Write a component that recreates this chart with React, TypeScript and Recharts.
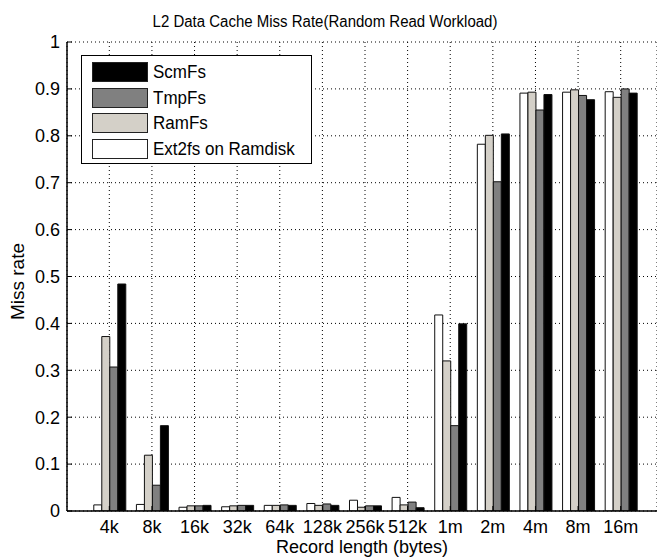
import React from "react";
import {
  BarChart, Bar, XAxis, YAxis, CartesianGrid, Legend, Label,
} from "recharts";

const RECORD_SIZES = ["4k", "8k", "16k", "32k", "64k", "128k", "256k", "512k", "1m", "2m", "4m", "8m", "16m"];

const EXT2_RAMDISK = [0.013, 0.014, 0.008, 0.009, 0.012, 0.016, 0.023, 0.029, 0.418, 0.782, 0.891, 0.893, 0.894];
const RAMFS = [0.372, 0.119, 0.011, 0.011, 0.012, 0.012, 0.008, 0.013, 0.320, 0.801, 0.893, 0.898, 0.882];
const TMPFS = [0.307, 0.055, 0.011, 0.012, 0.013, 0.015, 0.011, 0.019, 0.182, 0.702, 0.855, 0.886, 0.900];
const SCMFS = [0.484, 0.182, 0.012, 0.012, 0.012, 0.012, 0.011, 0.007, 0.399, 0.804, 0.888, 0.877, 0.891];

const Y_TICKS = [0, 0.1, 0.2, 0.3, 0.4, 0.5, 0.6, 0.7, 0.8, 0.9, 1];

const FONT = "'Liberation Sans', Arial, sans-serif";

const SERIES = [
  { key: "ext2", name: "Ext2fs on Ramdisk", fill: "#ffffff" },
  { key: "ramfs", name: "RamFs", fill: "#d4d0c8" },
  { key: "tmpfs", name: "TmpFs", fill: "#808080" },
  { key: "scmfs", name: "ScmFs", fill: "#000000" },
];

const rows = RECORD_SIZES.map((size, i) => ({
  size,
  ext2: EXT2_RAMDISK[i],
  ramfs: RAMFS[i],
  tmpfs: TMPFS[i],
  scmfs: SCMFS[i],
}));

// legend lists the series top-down in reverse plotting order
function LegendBox() {
  const items = [...SERIES].reverse();
  return (
    <div
      style={{
        width: 229,
        height: 107,
        border: "1.5px solid #000",
        background: "#fff",
        position: "relative",
        fontFamily: FONT,
        fontSize: 17,
        color: "#000",
      }}
    >
      {items.map((s, i) => (
        <div key={s.key} style={{ position: "absolute", left: 10, top: 6 + i * 25.5, height: 20, display: "flex", alignItems: "center" }}>
          <div style={{ width: 54, height: 18, background: s.fill, border: "1px solid #222" }} />
          <span style={{ marginLeft: 5, lineHeight: "20px", display: "inline-block", transform: "scaleY(1.12)" }}>{s.name}</span>
        </div>
      ))}
    </div>
  );
}

function YTitle({ viewBox }: any) {
  const x = viewBox.x + 24;
  const y = viewBox.y + viewBox.height / 2 + 5;
  return (
    <text x={x} y={y} transform={`rotate(-90 ${x} ${y})`} textAnchor="middle" fontFamily={FONT} fontSize={19} fill="#000">
      Miss rate
    </text>
  );
}

export default function App() {
  return (
    <div style={{ position: "absolute", left: 0, top: 0, width: 657, height: 560, background: "#fff" }}>
      <div
        style={{
          position: "absolute",
          left: 25,
          top: 13,
          width: 600,
          textAlign: "center",
          fontFamily: FONT,
          fontSize: 15,
          lineHeight: 1,
          color: "#000",
          whiteSpace: "nowrap",
          transform: "scaleY(1.15)",
        }}
      >
        L2 Data Cache Miss Rate(Random Read Workload)
      </div>
      <BarChart
        width={657}
        height={560}
        data={rows}
        margin={{ top: 42, right: 0, bottom: 0, left: 0 }}
        barCategoryGap="13.6%"
        barGap={0}
      >
        <CartesianGrid stroke="#000" strokeDasharray="1 3" />
        <XAxis
          dataKey="size"
          height={49}
          padding={{ left: 21, right: 15 }}
          axisLine={{ stroke: "#000", strokeWidth: 1.5 }}
          tickLine={{ stroke: "#000" }}
          tickSize={-5}
          tickMargin={14}
          tick={{ fill: "#000", fontSize: 18, fontFamily: FONT }}
          interval={0}
        >
          <Label value="Record length (bytes)" position="insideBottom" offset={7} fill="#000" fontSize={18} fontFamily={FONT} />
        </XAxis>
        <XAxis
          xAxisId="top"
          dataKey="size"
          orientation="top"
          height={0}
          padding={{ left: 21, right: 15 }}
          axisLine={{ stroke: "#000", strokeWidth: 1.5 }}
          tickLine={{ stroke: "#000" }}
          tickSize={-5}
          tick={() => <g />}
          interval={0}
        />
        <YAxis
          width={67}
          domain={[0, 1]}
          ticks={Y_TICKS}
          allowDataOverflow
          axisLine={{ stroke: "#000", strokeWidth: 1.5 }}
          tickLine={{ stroke: "#000" }}
          tickSize={-5}
          tickMargin={12}
          tick={{ fill: "#000", fontSize: 18, fontFamily: FONT }}
          tickFormatter={(v: number) => String(v)}
          label={<YTitle />}
        />
        <Legend
          layout="vertical"
          align="center"
          verticalAlign="middle"
          wrapperStyle={{ left: 81, top: 55, width: 232, height: 110 }}
          content={() => <LegendBox />}
        />
        {SERIES.map((s) => (
          <Bar
            key={s.key}
            dataKey={s.key}
            name={s.name}
            fill={s.fill}
            stroke="#111"
            strokeWidth={1}
            isAnimationActive={false}
          />
        ))}
      </BarChart>
    </div>
  );
}
